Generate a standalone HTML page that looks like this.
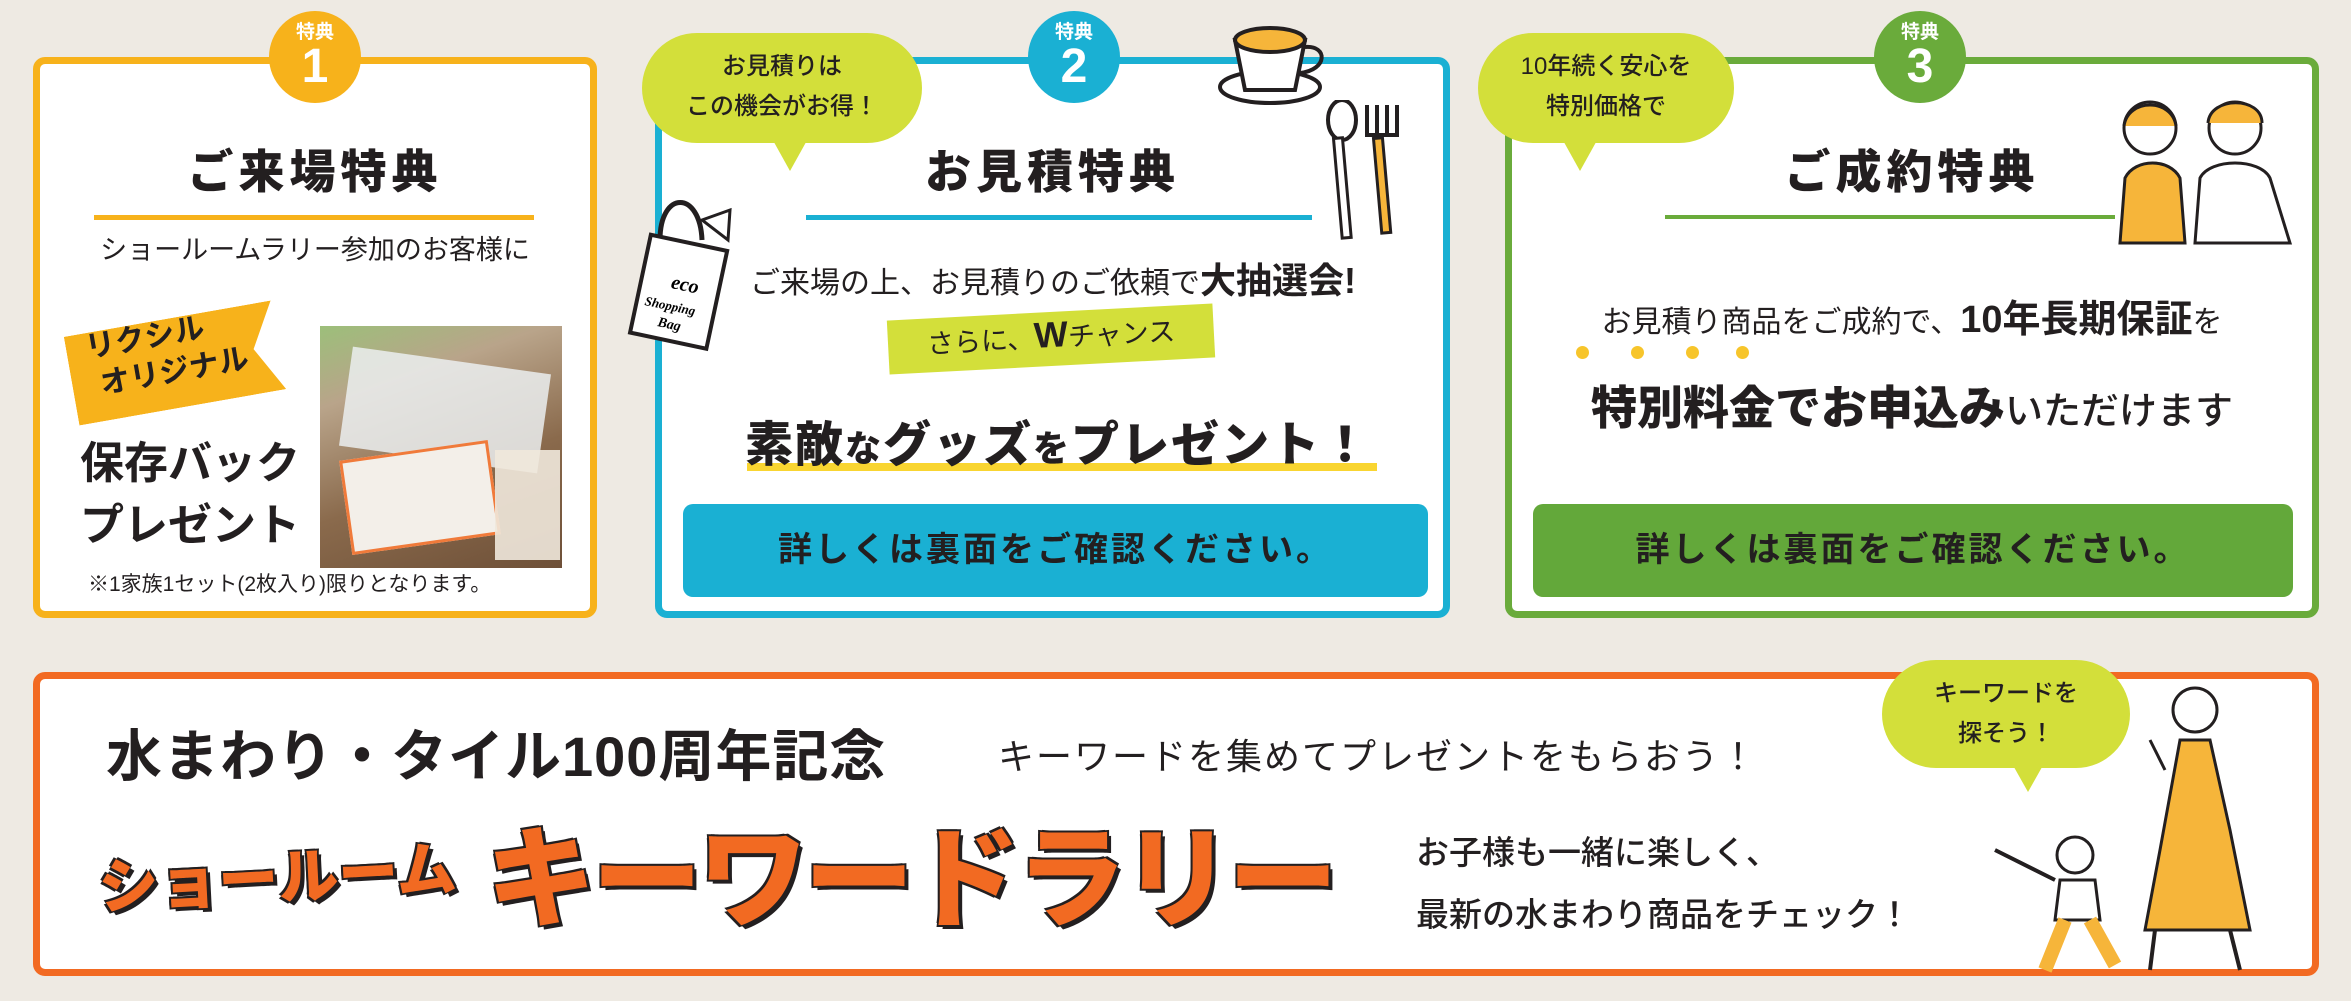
<!DOCTYPE html>
<html><head><meta charset="utf-8">
<style>
*{margin:0;padding:0;box-sizing:border-box}
body{width:2351px;height:1001px;background:#eeeae3;position:relative;overflow:hidden;font-family:"Liberation Sans","Noto Sans CJK JP",sans-serif;color:#231f20}
.a{position:absolute}
.box{position:absolute;background:#fff;border-radius:12px}
.badge{position:absolute;width:92px;height:92px;border-radius:50%;color:#fff;text-align:center;font-weight:700}
.badge .s{font-size:19px;line-height:19px;margin-top:12px}
.badge .n{font-size:48px;line-height:50px}
.title{position:absolute;font-size:46px;font-weight:900;letter-spacing:5px;text-align:center;white-space:nowrap}
.c{text-align:center;white-space:nowrap}
.bub{position:absolute;background:#d3df3a;border-radius:60px;text-align:center;font-size:24px;line-height:40px;padding-top:14px;font-weight:500}
.btn{position:absolute;border-radius:10px;font-size:34px;font-weight:700;text-align:center;letter-spacing:3px}
.rally{position:absolute;font-weight:900;color:#f26a22;-webkit-text-stroke:3px #fff;paint-order:stroke fill;text-shadow:4px 4px 0 #231f20,-2px -2px 0 #231f20,2px -2px 0 #231f20,-2px 2px 0 #231f20;white-space:nowrap}
</style></head><body>

<!-- Box 1 -->
<div class="box" style="left:33px;top:57px;width:564px;height:561px;border:7px solid #f7b21b"></div>
<div class="badge" style="left:269px;top:11px;background:#f7b21b"><div class="s">特典</div><div class="n">1</div></div>
<div class="title" style="left:33px;width:564px;top:136px">ご来場特典</div>
<div class="a" style="left:94px;top:215px;width:440px;height:5px;background:#f7b21b"></div>
<div class="a c" style="left:33px;width:564px;top:228px;font-size:27px">ショールームラリー参加のお客様に</div>
<div class="a" style="left:70px;top:318px;width:210px;height:90px;background:#f7b21b;transform:rotate(-10deg);clip-path:polygon(0 0,100% 0,88% 50%,100% 100%,0 100%)"></div>
<div class="a" style="left:88px;top:316px;font-size:30px;line-height:38px;font-weight:700;transform:rotate(-10deg);color:#231f20">リクシル<br>&nbsp;オリジナル</div>
<div class="a" style="left:80px;top:433px;font-size:44px;line-height:62px;font-weight:700">保存バック<br>プレゼント</div>
<div class="a" style="left:320px;top:326px;width:242px;height:242px;background:linear-gradient(160deg,#9cbf7a 0%,#b9a48a 25%,#8a6a4c 60%,#6e5038 100%)"></div>
<div class="a" style="left:345px;top:360px;width:200px;height:100px;background:rgba(235,238,240,.85);transform:rotate(8deg)"></div>
<div class="a" style="left:345px;top:450px;width:150px;height:95px;background:#f3efe9;border:3px solid #f07a3a;transform:rotate(-8deg)"></div>
<div class="a" style="left:495px;top:450px;width:65px;height:110px;background:rgba(240,232,220,.9)"></div>
<div class="a" style="left:88px;top:568px;font-size:21px">※1家族1セット(2枚入り)限りとなります。</div>

<!-- Box 2 -->
<div class="box" style="left:655px;top:57px;width:795px;height:561px;border:7px solid #1ab0d3"></div>
<div class="badge" style="left:1028px;top:11px;background:#1ab0d3"><div class="s">特典</div><div class="n">2</div></div>
<div class="bub" style="left:642px;top:33px;width:280px;height:110px">お見積りは<br>この機会がお得！</div>
<div class="a" style="left:770px;top:135px;width:0;height:0;border-left:20px solid transparent;border-right:20px solid transparent;border-top:36px solid #d3df3a"></div>
<div class="title" style="left:655px;width:795px;top:136px">お見積特典</div>
<div class="a" style="left:806px;top:215px;width:506px;height:5px;background:#1ab0d3"></div>
<div class="a c" style="left:750px;top:252px;font-size:30px">ご来場の上、お見積りのご依頼で<b style="font-size:36px">大抽選会!</b></div>
<div class="a" style="left:888px;top:312px;width:326px;height:54px;background:#d3df3a;transform:rotate(-3deg)"></div>
<div class="a c" style="left:888px;width:326px;top:314px;font-size:27px;transform:rotate(-3deg)">さらに、<b style="font-size:36px">W</b>チャンス</div>
<div class="a" style="left:747px;top:463px;width:630px;height:8px;background:#f9d531"></div>
<div class="a c" style="left:745px;top:405px;font-size:48px;font-weight:900;letter-spacing:2px">素敵<span style="font-size:36px">な</span>グッズ<span style="font-size:36px">を</span>プレゼント！</div>
<div class="btn" style="left:683px;top:504px;width:745px;height:93px;background:#1ab0d3;line-height:93px">詳しくは裏面をご確認ください。</div>
<svg class="a" style="left:620px;top:180px" width="140" height="190"><path d="M40 60 C40 10 80 10 82 60" fill="none" stroke="#231f20" stroke-width="5"/><path d="M82 40 L110 30 L108 60 Z" fill="#fff" stroke="#231f20" stroke-width="3"/><rect x="20" y="62" width="78" height="100" fill="#fff" stroke="#231f20" stroke-width="4" transform="rotate(12 60 110)"/><text x="50" y="110" font-size="20" font-weight="900" font-family="Liberation Serif,serif" transform="rotate(12 60 110)" font-style="italic">eco</text><text x="28" y="132" font-size="13" font-weight="700" font-family="Liberation Serif,serif" transform="rotate(12 60 110)" font-style="italic">Shopping</text><text x="45" y="150" font-size="14" font-weight="700" font-family="Liberation Serif,serif" transform="rotate(12 60 110)" font-style="italic">Bag</text></svg>
<svg class="a" style="left:1210px;top:15px" width="130" height="95"><ellipse cx="60" cy="72" rx="50" ry="16" fill="#fff" stroke="#231f20" stroke-width="4"/><path d="M25 25 L35 75 L85 75 L95 25 Z" fill="#fff" stroke="#231f20" stroke-width="4"/><ellipse cx="60" cy="25" rx="35" ry="12" fill="#f6b53a" stroke="#231f20" stroke-width="4"/><path d="M95 32 C118 30 118 55 90 58" fill="none" stroke="#231f20" stroke-width="4"/></svg>
<svg class="a" style="left:1322px;top:100px" width="95" height="145"><ellipse cx="20" cy="20" rx="14" ry="20" fill="#fff" stroke="#231f20" stroke-width="4"/><rect x="16" y="38" width="9" height="100" fill="#fff" stroke="#231f20" stroke-width="3" transform="rotate(-5 20 90)"/><path d="M45 5 L45 35 L75 35 L75 5 M55 5 L55 35 M65 5 L65 35" fill="none" stroke="#231f20" stroke-width="4"/><rect x="56" y="38" width="9" height="95" fill="#f6b53a" stroke="#231f20" stroke-width="3" transform="rotate(-5 60 90)"/></svg>

<!-- Box 3 -->
<div class="box" style="left:1505px;top:57px;width:814px;height:561px;border:7px solid #6aab3b"></div>
<div class="badge" style="left:1874px;top:11px;background:#6aab3b"><div class="s">特典</div><div class="n">3</div></div>
<div class="bub" style="left:1478px;top:33px;width:256px;height:110px">10年続く安心を<br>特別価格で</div>
<div class="a" style="left:1560px;top:135px;width:0;height:0;border-left:20px solid transparent;border-right:20px solid transparent;border-top:36px solid #d3df3a"></div>
<div class="title" style="left:1505px;width:814px;top:136px">ご成約特典</div>
<div class="a" style="left:1665px;top:215px;width:450px;height:4px;background:#6aab3b"></div>
<div class="a c" style="left:1505px;width:814px;top:288px;font-size:30px">お見積り商品をご成約で、<b style="font-size:38px">10年長期保証</b>を</div>
<div class="a" style="left:1576px;top:346px;width:13px;height:13px;border-radius:50%;background:#f7c52b;box-shadow:55px 0 0 #f7c52b,110px 0 0 #f7c52b,160px 0 0 #f7c52b"></div>
<div class="a c" style="left:1505px;width:814px;top:372px;font-size:46px;font-weight:900">特別料金でお申込み<span style="font-size:38px;font-weight:500">いただけます</span></div>
<div class="btn" style="left:1533px;top:504px;width:760px;height:93px;background:#63a83a;line-height:93px">詳しくは裏面をご確認ください。</div>
<svg class="a" style="left:2100px;top:88px" width="200" height="160"><circle cx="50" cy="40" r="26" fill="#fff" stroke="#231f20" stroke-width="3"/><path d="M24 38 C28 10 72 10 76 38" fill="#f6b53a" stroke="#231f20" stroke-width="3"/><path d="M20 155 L25 90 C35 70 70 70 80 90 L85 155 Z" fill="#f6b53a" stroke="#231f20" stroke-width="3"/><circle cx="135" cy="40" r="26" fill="#fff" stroke="#231f20" stroke-width="3"/><path d="M108 35 C110 8 162 8 162 35" fill="#f6b53a" stroke="#231f20" stroke-width="3"/><path d="M95 155 L100 90 C110 70 160 70 170 90 L190 155 Z" fill="#fff" stroke="#231f20" stroke-width="3"/></svg>

<!-- Bottom box -->
<div class="box" style="left:33px;top:672px;width:2286px;height:304px;border:7px solid #f26a22"></div>
<div class="a" style="left:106px;top:712px;font-size:56px;font-weight:700;white-space:nowrap;letter-spacing:1px">水まわり・タイル100周年記念</div>
<div class="a" style="left:998px;top:728px;font-size:36px;white-space:nowrap;letter-spacing:2px">キーワードを集めてプレゼントをもらおう！</div>
<div class="rally" style="left:98px;top:830px;font-size:60px;transform:rotate(-3deg)">ショールーム</div>
<div class="rally" style="left:486px;top:790px;font-size:110px;letter-spacing:-4px">キーワードラリー</div>
<div class="a" style="left:1416px;top:822px;font-size:33px;line-height:62px;font-weight:500;white-space:nowrap">お子様も一緒に楽しく、<br>最新の水まわり商品をチェック！</div>
<div class="bub" style="left:1882px;top:660px;width:248px;height:108px">キーワードを<br>探そう！</div>
<div class="a" style="left:2010px;top:760px;width:0;height:0;border-left:18px solid transparent;border-right:18px solid transparent;border-top:32px solid #d3df3a"></div>
<svg class="a" style="left:1985px;top:680px" width="300" height="300"><circle cx="210" cy="30" r="22" fill="#fff" stroke="#231f20" stroke-width="3"/><path d="M195 60 L175 170 L160 250 L265 250 L245 150 L225 60 Z" fill="#f6b53a" stroke="#231f20" stroke-width="3"/><path d="M180 90 L165 60" stroke="#231f20" stroke-width="3"/><circle cx="90" cy="175" r="18" fill="#fff" stroke="#231f20" stroke-width="3"/><path d="M75 200 L110 200 L115 240 L70 240 Z" fill="#fff" stroke="#231f20" stroke-width="3"/><path d="M70 200 L10 170" stroke="#231f20" stroke-width="4"/><path d="M80 240 L60 290 M105 240 L130 285" stroke="#f6b53a" stroke-width="14"/><path d="M170 250 L165 290 M245 250 L255 290" stroke="#231f20" stroke-width="4"/></svg>

</body></html>
